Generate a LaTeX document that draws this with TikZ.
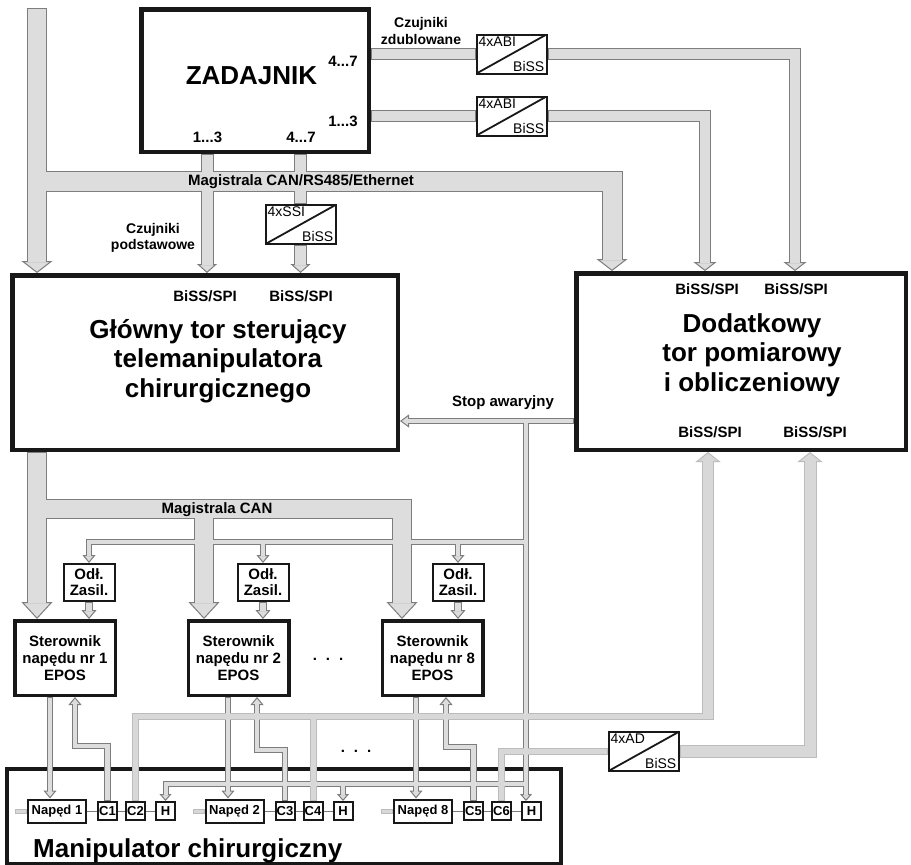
\documentclass[tikz,border=0pt]{standalone}
\usepackage{fontspec}
\setmainfont{Liberation Sans}
\usetikzlibrary{arrows.meta,positioning,calc}
\definecolor{boxline}{RGB}{24,24,24}
\definecolor{pipeedge}{RGB}{125,125,125}
\definecolor{pipefill}{RGB}{221,221,221}
\definecolor{lightedge}{RGB}{188,188,188}
\definecolor{lightfill}{RGB}{216,216,216}
\pgfdeclarelayer{back}
\pgfdeclarelayer{edges}
\pgfdeclarelayer{fills}
\pgfsetlayers{back,edges,fills,main}

% grey pipe: #1 colour set (pipe/light), #2 inner width, #3 path
\newcommand{\pipe}[3][pipe]{%
  \pgfmathsetmacro{\pipeout}{#2+2}%
  \begin{pgfonlayer}{edges}
    \draw[#1edge, line width=\pipeout pt] #3;
  \end{pgfonlayer}
  \begin{pgfonlayer}{fills}
    \draw[#1fill, line width=#2pt, shorten <=1pt, shorten >=1pt] #3;
  \end{pgfonlayer}}
% grey pipe with a head: #3 head width, #4 head length, #5 path
\newcommand{\pipeto}[5][pipe]{%
  \pgfmathsetmacro{\pipeout}{#2+2}%
  \pgfmathsetmacro{\pipecut}{#4-1}%
  \begin{pgfonlayer}{edges}
    \draw[#1edge, line width=\pipeout pt,
      -{Triangle[width=#3pt, length=#4pt, line width'=1pt, fill=#1fill]}] #5;
  \end{pgfonlayer}
  \begin{pgfonlayer}{fills}
    \draw[#1fill, line width=#2pt, shorten <=1pt, shorten >=\pipecut pt] #5;
  \end{pgfonlayer}}

\begin{document}
\begin{tikzpicture}[x=1pt, y=-1pt,
    every node/.style={inner sep=0pt},
    bigbox/.style={draw=boxline, fill=white, line width=4.5pt},
    drvbox/.style={draw=boxline, fill=white, line width=3.5pt, minimum width=100.5pt,
        minimum height=74.5pt, align=center, font=\bfseries\fontsize{15}{17}\selectfont},
    psbox/.style={draw=boxline, fill=white, line width=2pt, minimum width=51pt,
        minimum height=37pt, align=center, font=\bfseries\fontsize{15}{16}\selectfont},
    motor/.style={draw=boxline, fill=white, line width=2pt, minimum width=58pt,
        minimum height=23pt, font=\bfseries\fontsize{13}{13}\selectfont},
    sens/.style={draw=boxline, fill=white, line width=2pt, minimum width=19pt,
        minimum height=18pt, font=\bfseries\fontsize{13}{13}\selectfont},
    convtxt/.style={draw=none, fill=none, inner sep=3pt, font=\fontsize{14}{14}\selectfont},
    conv/.style 2 args={draw=boxline, fill=white, line width=2pt, minimum width=70pt,
        minimum height=39pt,
        path picture={
          \draw[boxline, line width=1.8pt] (path picture bounding box.south west)
            -- (path picture bounding box.north east);},
        label={[convtxt, anchor=north west]north west:#1},
        label={[convtxt, anchor=south east]south east:#2}},
    bigtext/.style={font=\bfseries\fontsize{26}{29.5}\selectfont, align=center},
    lbl/.style={font=\bfseries\fontsize{15}{16}\selectfont, align=center},
    link/.style={draw=pipeedge, line width=1pt}
]
\useasboundingbox (0,0) rectangle (911,865);
\begin{pgfonlayer}{back}
  \fill[white] (0,0) rectangle (911,865);
  \node[bigbox, line width=4pt, fill=none, minimum width=554pt, minimum height=95pt] (manip) at (284,816.5) {};
\end{pgfonlayer}

% blocks
\node[bigbox, minimum width=227.5pt, minimum height=142.5pt] (zad) at (255,80.5) {};
\node[bigbox, minimum width=385.5pt, minimum height=174.5pt] (glowny) at (205,362.5) {};
\node[bigbox, minimum width=329.5pt, minimum height=176.5pt] (dod) at (741,361.5) {};
\node[conv={4xABI}{BiSS}] (abi1) at (511.5,54) {};
\node[conv={4xABI}{BiSS}] (abi2) at (511.5,116) {};
\node[conv={4xSSI}{BiSS}] (ssi) at (300.5,224.5) {};
\node[conv={4xAD}{BiSS}] (ad) at (643.5,751.5) {};

\node[psbox] (odl1) at (89,582.5) {Odł.\\Zasil.};
\node[psbox] (odl2) at (263,582.5) {Odł.\\Zasil.};
\node[psbox] (odl8) at (458,582.5) {Odł.\\Zasil.};
\node[drvbox] (ster1) at (65,658) {Sterownik\\napędu nr 1\\EPOS};
\node[drvbox] (ster2) at (238.5,658) {Sterownik\\napędu nr 2\\EPOS};
\node[drvbox] (ster8) at (432.5,658) {Sterownik\\napędu nr 8\\EPOS};

% drives and sensors in the manipulator
\node[motor] (np1) at (57,811) {Napęd 1};
\node[sens, right=10pt of np1] (c1) {C1};
\node[sens, right=7pt of c1] (c2) {C2};
\node[sens, right=9pt of c2] (h1) {H};
\node[motor] (np2) at (234.5,811) {Napęd 2};
\node[sens, right=10pt of np2] (c3) {C3};
\node[sens, right=7pt of c3] (c4) {C4};
\node[sens, right=9pt of c4] (h2) {H};
\node[motor] (np8) at (423,811) {Napęd 8};
\node[sens, right=10pt of np8] (c5) {C5};
\node[sens, right=7pt of c5] (c6) {C6};
\node[sens, right=9pt of c6] (h3) {H};
\coordinate[left=12pt of np1] (s1);
\coordinate[left=12pt of np2] (s2);
\coordinate[left=12pt of np8] (s8);

% texts
\node[bigtext] (zad-t) at (251.5,76) {ZADAJNIK};
\node[lbl] (zad-o1) at (343,61) {4...7};
\node[lbl] (zad-o2) at (343,121) {1...3};
\node[lbl] (zad-o3) at (207.5,137) {1...3};
\node[lbl] (zad-o4) at (301,137) {4...7};
\node[lbl, font=\bfseries\fontsize{14}{16.5}\selectfont] (czz) at (421,31) {Czujniki\\zdublowane};
\node[lbl] (can1) at (301,182) {Magistrala CAN/RS485/Ethernet};
\node[lbl, font=\bfseries\fontsize{14}{16}\selectfont] (czp) at (153,238) {Czujniki\\podstawowe};
\node[lbl] (g-in1) at (205,296) {BiSS/SPI};
\node[lbl] (g-in2) at (301,296) {BiSS/SPI};
\node[bigtext] (glowny-t) at (218,361) {Główny tor sterujący\\telemanipulatora\\chirurgicznego};
\node[lbl] (d-in1) at (707,289) {BiSS/SPI};
\node[lbl] (d-in2) at (796,289) {BiSS/SPI};
\node[lbl] (d-in3) at (710,432) {BiSS/SPI};
\node[lbl] (d-in4) at (815,432) {BiSS/SPI};
\node[bigtext] (dod-t) at (752,355) {Dodatkowy\\tor pomiarowy\\i obliczeniowy};
\node[lbl] (stop) at (503,403) {Stop awaryjny};
\node[lbl] (can2) at (217,510) {Magistrala CAN};
\node[lbl] (dots1) at (328,659) {.\hspace{9pt}.\hspace{9pt}.};
\node[lbl] (dots2) at (356,751) {.\hspace{9pt}.\hspace{9pt}.};
\node[bigtext, anchor=base west] (manip-t) at (33,857) {Manipulator chirurgiczny};

% upper buses
\coordinate (trunk) at (37,8);
\pipeto{18}{31}{12}{(trunk) -- (glowny.north -| trunk)}
\pipeto{19}{31}{12}{(trunk |- 0,181) -- (612,181) -- (dod.north -| 612,0)}
\pipeto{11}{20}{9}{(zad.south -| 207,0) -- (glowny.north -| 207,0)}
\pipe{11}{(zad.south -| ssi) -- (ssi.north)}
\pipeto{11}{20}{9}{(ssi.south) -- (glowny.north -| ssi)}
\pipe{10}{(zad.east |- abi1) -- (abi1.west)}
\pipeto{10}{23}{9}{(abi1.east) -- (abi1.east -| 795,0) -- (dod.north -| 795,0)}
\pipe{10}{(zad.east |- abi2) -- (abi2.west)}
\pipeto{10}{23}{9}{(abi2.east) -- (abi2.east -| 705,0) -- (dod.north -| 705,0)}

% emergency stop
\coordinate (sj) at (526,421);
\pipeto{4}{13}{9}{(dod.west |- sj) -- (glowny.east |- sj)}
\pipeto{4}{12}{7}{(sj) -- (sj |- h3.north)}
\pipeto{4}{13}{8}{(sj |- 0,542) -- (odl1.north |- 0,542) -- (odl1.north)}
\pipeto{4}{13}{8}{(odl2.north |- 0,542) -- (odl2.north)}
\pipeto{4}{13}{8}{(odl8.north |- 0,542) -- (odl8.north)}
\pipeto{4}{12}{7}{(sj |- 0,784) -- (h1.north |- 0,784) -- (h1.north)}
\pipeto{4}{12}{7}{(h2.north |- 0,784) -- (h2.north)}
\foreach \i in {1,2,8} {\pipeto{6}{15}{9}{(odl\i.south) -- (ster\i.north -| odl\i.south)}}

% CAN bus to the drives
\pipeto{18}{31}{17}{(glowny.south -| 37,0) -- (ster1.north -| 37,0)}
\pipeto{18}{31}{17}{(37,509) -- (402,509) -- (ster8.north -| 402,0)}
\pipeto{18}{31}{17}{(204,509) -- (ster2.north -| 204,0)}

% drive loops
\pipeto{4.5}{13}{8}{(ster1.south -| 50,0) -- (np1.north -| 50,0)}
\pipeto{4.5}{13}{8}{(c1.north) -- (c1.north |- 0,746) -- (75,746) -- (ster1.south -| 75,0)}
\pipeto{4.5}{13}{8}{(ster2.south -| 228,0) -- (np2.north -| 228,0)}
\pipeto{4.5}{13}{8}{(c3.north) -- (c3.north |- 0,750) -- (257,750) -- (ster2.south -| 257,0)}
\pipeto{4.5}{13}{8}{(ster8.south -| 416,0) -- (np8.north -| 416,0)}
\pipeto{4.5}{13}{8}{(c5.north) -- (c5.north |- 0,747) -- (446,747) -- (ster8.south -| 446,0)}

% extra sensors to the measuring path
\pipe[light]{5}{(c2.north) -- (c2.north |- 0,716) -- (708,716)}
\pipe[light]{5}{(c4.north) -- (c4.north |- 0,716)}
\pipeto[light]{10}{25}{10}{(708,719.5) -- (dod.south -| 708,0)}
\pipe[light]{4.5}{(c6.north) -- (c6.north |- ad.west) -- (ad.west)}
\pipeto[light]{11}{25}{10}{(ad.east) -- (ad.east -| 810,0) -- (dod.south -| 810,0)}

% stubs and links
\pipe[light]{3}{(np1.west) -- (s1)}
\pipe[light]{3}{(np2.west) -- (s2)}
\pipe[light]{3}{(np8.west) -- (s8)}
\draw[link] (np1) -- (c1) -- (c2) -- (h1);
\draw[link] (np2) -- (c3) -- (c4) -- (h2);
\draw[link] (np8) -- (c5) -- (c6) -- (h3);
\end{tikzpicture}
\end{document}
